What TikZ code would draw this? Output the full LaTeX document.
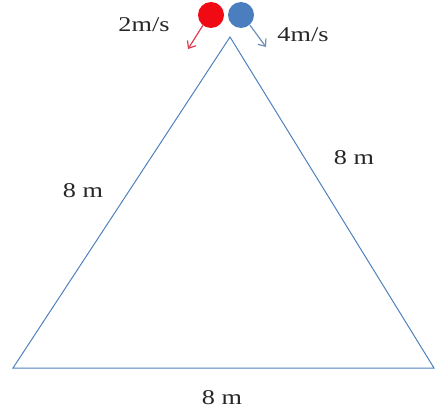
\documentclass[tikz,border=0pt]{standalone}
\usepackage{fontspec}
\setmainfont{Liberation Serif}
\usetikzlibrary{arrows.meta}
\definecolor{edgeblue}{RGB}{79,129,189}
\definecolor{ballred}{RGB}{240,10,20}
\definecolor{ballblue}{RGB}{74,126,190}
\definecolor{arrred}{RGB}{225,60,80}
\definecolor{arrblue}{RGB}{110,145,185}
\newcommand{\widetext}[1]{\scalebox{1.25}[1]{#1}}

\begin{document}
\begin{tikzpicture}[
  x=1pt, y=-1pt,
  % --- Style definitions ---
  side/.style={draw=edgeblue, line width=1pt},
  ball/.style={circle, minimum size=26pt, inner sep=0pt, fill=#1},
  vel/.style={-{Straight Barb[length=6pt, width=10pt]}, line width=1.2pt, color=#1},
  lbl/.style={font=\fontsize{21}{23}\selectfont, text=black!85, inner sep=0pt},
]
\useasboundingbox (0,0) rectangle (435,414);

% ===== Triangle corners =====
\coordinate (top) at (230,37);
\coordinate (left) at (13,368);
\coordinate (right) at (434,368);

\draw[side] (left) -- (top) -- (right) -- cycle;

% ===== Balls =====
\node[ball=ballred] (red) at (211,15) {};
\node[ball=ballblue] (blue) at (241,15) {};

% ===== Velocity arrows =====
\coordinate (redtip) at (188,49);
\coordinate (bluetip) at (266,47);
\draw[vel=arrred] ([xshift=-8pt, yshift=3pt]red.south) -- (redtip);
\draw[vel=arrblue] ([xshift=9pt, yshift=3pt]blue.south) -- (bluetip);

% ===== Labels =====
\node[lbl] (vred) at (144,25) {\widetext{2m/s}};
\node[lbl] (vblue) at (303,35) {\widetext{4m/s}};
\node[lbl] (sidel) at (83,191) {\widetext{8 m}};
\node[lbl] (sider) at (354,158) {\widetext{8 m}};
\node[lbl] (sideb) at (222,398) {\widetext{8 m}};

\end{tikzpicture}
\end{document}
